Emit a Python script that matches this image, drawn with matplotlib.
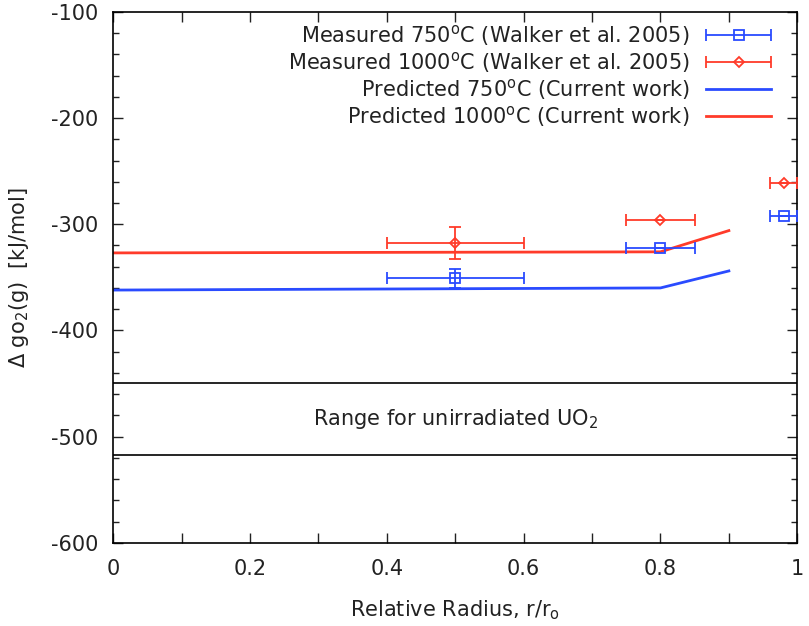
import numpy as np
import matplotlib
matplotlib.use('Agg')
import matplotlib.pyplot as plt
from matplotlib.ticker import MultipleLocator, FuncFormatter
from matplotlib.legend_handler import HandlerErrorbar

plt.rcParams['font.family'] = ['DejaVu Sans']
plt.rcParams['mathtext.fontset'] = 'dejavusans'
plt.rcParams['axes.unicode_minus'] = False

# ---- datos ----
radio_med = [0.5, 0.8, 0.98]
g750_med = [-351, -322, -292]
g750_yerr = [9, 0, 0]
g1000_med = [-318, -296, -261]
g1000_yerr = [15, 0, 0]
radio_xerr = [0.1, 0.05, 0.02]

radio_pred = [0.0, 0.8, 0.9]
g750_pred = [-362, -360, -344]
g1000_pred = [-327, -326, -306]

rango_uo2 = [-450, -517]

AZUL = '#2a4bff'
ROJO = '#ff3b2a'
TEXTO = '#222222'
FS = 15

fig = plt.figure(figsize=(8.09, 6.26), dpi=100)
ax = fig.add_axes([0.140, 0.133, 0.8455, 0.848])

eb750 = ax.errorbar(radio_med, g750_med, xerr=radio_xerr, yerr=g750_yerr, fmt='s',
                    mfc='none', mec=AZUL, color=AZUL, ms=7, mew=1.3, elinewidth=1.3,
                    capsize=4.5, capthick=1.3, zorder=4,
                    label='Measured 750$^\\mathrm{o}$C (Walker et al. 2005)')
eb1000 = ax.errorbar(radio_med, g1000_med, xerr=radio_xerr, yerr=g1000_yerr, fmt='D',
                     mfc='none', mec=ROJO, color=ROJO, ms=5, mew=1.3, elinewidth=1.3,
                     capsize=4.5, capthick=1.3, zorder=4,
                     label='Measured 1000$^\\mathrm{o}$C (Walker et al. 2005)')
l750, = ax.plot(radio_pred, g750_pred, color=AZUL, lw=2,
                label='Predicted 750$^\\mathrm{o}$C (Current work)')
l1000, = ax.plot(radio_pred, g1000_pred, color=ROJO, lw=2,
                 label='Predicted 1000$^\\mathrm{o}$C (Current work)')

for nivel in rango_uo2:
    ax.axhline(nivel, color='black', lw=1.2)
ax.text(0.5, np.mean(rango_uo2), 'Range for unirradiated UO$_2$',
        ha='center', va='center', fontsize=FS, color=TEXTO)

ax.set_xlim(0, 1)
ax.set_ylim(-600, -100)
ax.xaxis.set_major_locator(MultipleLocator(0.1))
ax.xaxis.set_major_formatter(FuncFormatter(
    lambda v, p: ('%g' % round(v, 1)) if round(v * 10) % 2 == 0 else ''))
ax.yaxis.set_major_locator(MultipleLocator(100))
ax.yaxis.set_minor_locator(MultipleLocator(20))
ax.tick_params(which='both', direction='in', top=True, right=True,
               labelsize=FS, colors=TEXTO)
ax.tick_params(axis='x', pad=12)
ax.tick_params(axis='y', pad=11)
ax.tick_params(which='major', length=7, width=1)
ax.tick_params(which='minor', length=4, width=1)
for s in ax.spines.values():
    s.set_linewidth(1.2)

ax.set_xlabel('Relative Radius, r/r$_\\mathrm{o}$', fontsize=FS, color=TEXTO)
ax.set_ylabel('$\\Delta$ go$_2$(g)  [kJ/mol]', fontsize=FS, color=TEXTO)
ax.xaxis.set_label_coords(0.5, -0.105)
ax.yaxis.set_label_coords(-0.12, 0.5)

# en la leyenda solo barras horizontales, como en gnuplot
eb750.has_yerr = False
eb1000.has_yerr = False
leg = ax.legend([eb750, eb1000, l750, l1000],
                [eb750.get_label(), eb1000.get_label(),
                 l750.get_label(), l1000.get_label()],
                handler_map={eb750: HandlerErrorbar(xerr_size=1.55),
                             eb1000: HandlerErrorbar(xerr_size=1.55)},
                loc='upper right', bbox_to_anchor=(0.998, 1.027),
                frameon=False, markerfirst=False,
                fontsize=FS, handlelength=3.1, handletextpad=0.8,
                labelspacing=0.1, borderaxespad=0.9, borderpad=0.3)
for t in leg.get_texts():
    t.set_color(TEXTO)
for col in leg._legend_handle_box.get_children():
    col.align = 'right'

fig.savefig('out.png', dpi=100)
